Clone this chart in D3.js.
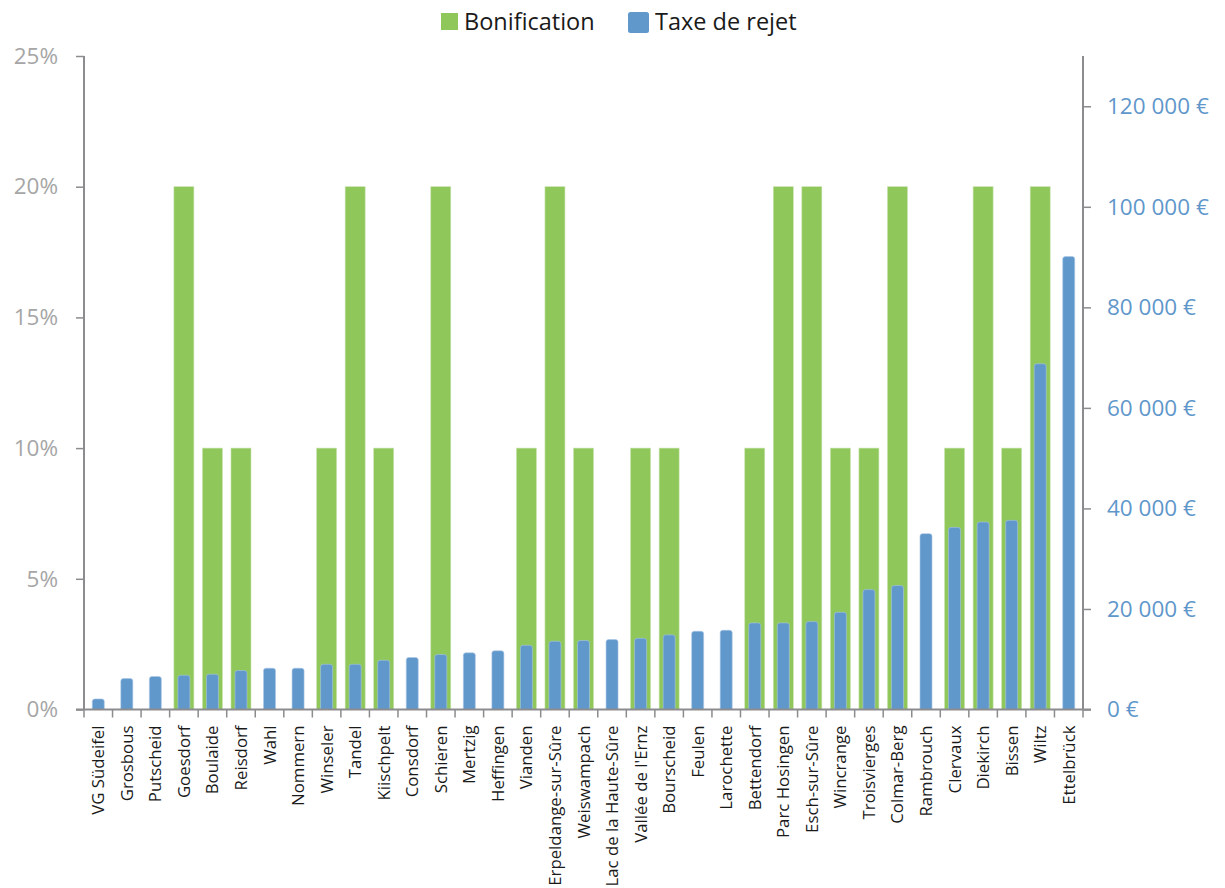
<!DOCTYPE html>
<html>
<head>
<meta charset="utf-8">
<script src="https://cdn.jsdelivr.net/npm/d3@7"></script>
<style>
  html, body { margin: 0; padding: 0; background: #fff; }
  svg { display: block; font-family: "Open Sans", "Noto Sans", sans-serif; }
</style>
</head>
<body>
<svg id="chart" width="1225" height="888"></svg>
<script>
const categories = ["VG Südeifel","Grosbous","Putscheid","Goesdorf","Boulaide","Reisdorf","Wahl","Nommern","Winseler","Tandel","Kiischpelt","Consdorf","Schieren","Mertzig","Heffingen","Vianden","Erpeldange-sur-Sûre","Weiswampach","Lac de la Haute-Sûre","Vallée de l'Ernz","Bourscheid","Feulen","Larochette","Bettendorf","Parc Hosingen","Esch-sur-Sûre","Wincrange","Troisvierges","Colmar-Berg","Rambrouch","Clervaux","Diekirch","Bissen","Wiltz","Ettelbrück"];
const bonification = [0,0,0,0.20,0.10,0.10,0,0,0.10,0.20,0.10,0,0.20,0,0,0.10,0.20,0.10,0,0.10,0.10,0,0,0.10,0.20,0.20,0.10,0.10,0.20,0,0.10,0.20,0.10,0.20,0];
const taxeRejet = [2100,6160,6560,6820,7020,7750,8210,8210,9000,9000,9800,10340,10930,11270,11670,12780,13580,13720,13910,14170,14850,15560,15760,17230,17230,17490,19340,23850,24650,34980,36230,37300,37630,68780,90100];
const leftTicks = [0,0.05,0.10,0.15,0.20,0.25];
const rightTicks = [0,20000,40000,60000,80000,100000,120000];
const seriesNames = ["Bonification","Taxe de rejet"];

const GREEN = "#8fc75a", BLUE = "#6198cb", AXIS = "#8c8c8f";
const svg = d3.select("#chart");
const pLeft = 84, pRight = 1083, pTop = 56, pBottom = 709.5;

const x = d3.scaleBand().domain(categories).range([pLeft, pRight]).padding(0);
const yL = d3.scaleLinear().domain([0, 0.25]).range([pBottom, pTop]);
const yR = d3.scaleLinear().domain([0, 130000]).range([pBottom, pTop]);

const greenW = 20, blueW = 12;

// green bars
svg.append("g").selectAll("rect").data(categories).join("rect")
  .attr("x", (d) => x(d) + x.bandwidth()/2 - greenW/2)
  .attr("y", (d,i) => yL(bonification[i]))
  .attr("width", greenW)
  .attr("height", (d,i) => pBottom - yL(bonification[i]))
  .attr("fill", GREEN)
  .attr("stroke", "#c9e3b0").attr("stroke-width", 0.6);

// blue bars with rounded top
svg.append("g").selectAll("path").data(categories).join("path")
  .attr("d", (d,i) => {
    const x0 = x(d) + x.bandwidth()/2 - blueW/2, x1 = x0 + blueW;
    const y0 = yR(taxeRejet[i]), r = 2.5;
    return `M${x0},${pBottom}V${y0+r}Q${x0},${y0} ${x0+r},${y0}H${x1-r}Q${x1},${y0} ${x1},${y0+r}V${pBottom}Z`;
  })
  .attr("fill", BLUE)
  .attr("stroke", "#a9c6e6").attr("stroke-width", 0.6);

// left axis
const gL = svg.append("g").attr("transform", `translate(${pLeft},0)`)
  .call(d3.axisLeft(yL).tickValues(leftTicks).tickFormat(d => Math.round(d*100) + "%").tickSize(8).tickPadding(18));
gL.select(".domain").attr("stroke", AXIS).attr("stroke-width", 2).attr("d", `M0,${pTop}V${pBottom}`);
gL.selectAll(".tick line").attr("stroke", AXIS).attr("stroke-width", 1.5);
gL.selectAll(".tick text").attr("fill", "#a6a6a6").attr("font-size", 22.5).attr("font-family", "Open Sans");

// right axis
const gR = svg.append("g").attr("transform", `translate(${pRight},0)`)
  .call(d3.axisRight(yR).tickValues(rightTicks).tickFormat(d => d3.format(",")(d).replace(/,/g, "\u00a0") + "\u00a0€").tickSize(8).tickPadding(16));
gR.select(".domain").attr("stroke", AXIS).attr("stroke-width", 2).attr("d", `M0,${pTop}V${pBottom}`);
gR.selectAll(".tick line").attr("stroke", AXIS).attr("stroke-width", 1.5);
gR.selectAll(".tick text").attr("fill", "#5f97cb").attr("font-size", 22.5).attr("font-family", "Open Sans");

// bottom axis
const gB = svg.append("g").attr("transform", `translate(0,${pBottom})`);
gB.append("line").attr("x1", pLeft - 8).attr("x2", pRight + 8).attr("y1", 0).attr("y2", 0)
  .attr("stroke", AXIS).attr("stroke-width", 2);
gB.selectAll("line.sep").data(d3.range(categories.length + 1)).join("line")
  .attr("class", "sep")
  .attr("x1", i => pLeft + i * x.step()).attr("x2", i => pLeft + i * x.step())
  .attr("y1", 0).attr("y2", 8).attr("stroke", AXIS).attr("stroke-width", 1.5);
gB.selectAll("text").data(categories).join("text")
  .attr("transform", d => `translate(${x(d) + x.bandwidth()/2 + 6},16) rotate(-90)`)
  .attr("text-anchor", "end")
  .attr("font-size", 16.8)
  .attr("fill", "#1a1a1a")
  .text(d => d);

// legend
const legend = svg.append("g");
legend.append("rect").attr("x", 441).attr("y", 13).attr("width", 17).attr("height", 17).attr("fill", GREEN);
legend.append("text").attr("x", 464).attr("y", 30).attr("font-size", 23.5).attr("fill", "#1a1a1a").text(seriesNames[0]);
legend.append("rect").attr("x", 628).attr("y", 12).attr("width", 21).attr("height", 21).attr("rx", 2.5).attr("fill", BLUE);
legend.append("text").attr("x", 655).attr("y", 30).attr("font-size", 23.5).attr("fill", "#1a1a1a").text(seriesNames[1]);
</script>
</body>
</html>
